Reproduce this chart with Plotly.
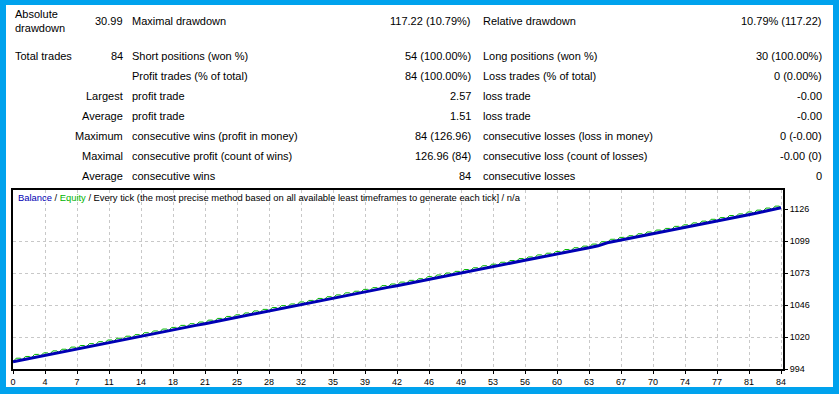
import plotly.graph_objects as go

W, H = 839, 394

# ---------------- data ----------------
initial_deposit = 1000.0
trade_profits = [
    1.52, 1.48, 1.61, 1.35, 1.57, 1.44, 1.66, 1.39, 1.50, 1.58,
    1.42, 1.47, 1.63, 1.36, 1.55, 1.49, 1.52, 1.41, 1.60, 1.45,
    1.38, 1.53, 1.46, 1.57, 1.40, 1.51, 1.62, 1.37, 1.48, 1.54,
    1.43, 1.59, 1.34, 1.56, 1.47, 1.50, 1.65, 1.38, 1.52, 1.46,
    1.58, 1.41, 1.53, 1.49, 1.37, 1.64, 1.44, 1.55, 1.40, 1.51,
    1.47, 1.60, 1.36, 1.54, 1.48, 1.57, 1.39, 1.62, 1.45, 1.43,
    1.56, 1.50, 1.38, 1.59, 2.57, 1.46, 1.52, 1.41, 1.58, 1.49,
    1.55, 1.42, 1.61, 1.37, 1.53, 1.48, 1.50, 1.44, 1.63, 1.40,
    1.57, 1.52, 1.68, 1.61,
]
# floating equity gain of the open position, sampled inside each trade
floating_mid = [
    2.91, 2.82, 3.04, 2.70, 2.97, 2.78, 3.10, 2.75, 2.89, 3.00,
    2.80, 2.86, 3.08, 2.72, 2.94, 2.85, 2.93, 2.77, 3.03, 2.81,
    2.74, 2.92, 2.83, 2.99, 2.76, 2.90, 3.06, 2.73, 2.87, 2.95,
    2.79, 3.02, 2.69, 2.98, 2.84, 2.88, 3.09, 2.75, 2.91, 2.83,
    3.01, 2.78, 2.94, 2.86, 2.72, 3.07, 2.80, 2.96, 2.77, 2.90,
    2.85, 3.04, 2.71, 2.95, 2.87, 2.99, 2.75, 3.05, 2.82, 2.79,
    2.98, 2.89, 2.74, 3.02, 3.35, 2.83, 2.92, 2.77, 3.00, 2.88,
    2.97, 2.78, 3.05, 2.72, 2.93, 2.86, 2.90, 2.80, 3.07, 2.76,
    2.99, 2.91, 3.10, 3.03,
]

x_tick_vals = [0, 3.5, 7, 10.5, 14, 17.5, 21, 24.5, 28, 31.5, 35, 38.5, 42,
               45.5, 49, 52.5, 56, 59.5, 63, 66.5, 70, 73.5, 77, 80.5, 84]
x_tick_text = ["0", "4", "7", "11", "14", "18", "21", "25", "28", "32", "35",
               "39", "42", "46", "49", "53", "56", "60", "63", "67", "70",
               "74", "77", "81", "84"]
y_tick_vals = [994, 1020.4, 1046.8, 1073.2, 1099.6, 1126]
y_tick_text = ["994", "1020", "1046", "1073", "1099", "1126"]
y_grid_vals = [1020.4, 1046.8, 1073.2, 1099.6]

# report table
head_labels = ["Absolute<br>drawdown", "Total trades", "", "Largest", "Average",
               "Maximum", "Maximal", "Average"]
head_values = ["30.99", "84", "", "", "", "", "", ""]
mid_labels = ["Maximal drawdown", "Short positions (won %)", "Profit trades (% of total)",
              "profit trade", "profit trade", "consecutive wins (profit in money)",
              "consecutive profit (count of wins)", "consecutive wins"]
mid_values = ["117.22 (10.79%)", "54 (100.00%)", "84 (100.00%)", "2.57", "1.51",
              "84 (126.96)", "126.96 (84)", "84"]
right_labels = ["Relative drawdown", "Long positions (won %)", "Loss trades (% of total)",
                "loss trade", "loss trade", "consecutive losses (loss in money)",
                "consecutive loss (count of losses)", "consecutive losses"]
right_values = ["10.79% (117.22)", "30 (100.00%)", "0 (0.00%)", "-0.00", "-0.00",
                "0 (-0.00)", "-0.00 (0)", "0"]

chart_title = ("<span style='color:#0000B4'>Balance</span> / "
               "<span style='color:#00B400'>Equity</span> / Every tick (the most precise "
               "method based on all available least timeframes to generate each tick] / n/a")

# ---------------- build series ----------------
balance = [initial_deposit]
for p in trade_profits:
    balance.append(round(balance[-1] + p, 2))
bal_x = list(range(len(balance)))

eq_x, eq_y = [], []
for i, f in enumerate(floating_mid):
    eq_x += [i, i + 0.35, i + 0.8]
    eq_y += [balance[i], balance[i] + f, balance[i] + f]
eq_x.append(len(trade_profits))
eq_y.append(balance[-1])

# ---------------- helpers ----------------
def px(x):
    return x / W


def py(y):
    return 1 - y / H


FONT = "Liberation Sans, Arial, sans-serif"
BLUE_BG = "#00A2ED"

# plot box in pixels
L, R, T, B = 13, 783, 190, 369
y_lo, y_at = 994, 1126
y_hi = y_lo + (B - T) / (B - 209) * (y_at - y_lo)
x_hi = 84 * (R - L) / (781 - L)

fig = go.Figure()
fig.add_trace(go.Scatter(x=eq_x, y=eq_y, mode="lines",
                         line=dict(color="#00B400", width=1),
                         xaxis="x", yaxis="y", hoverinfo="skip", showlegend=False))
fig.add_trace(go.Scatter(x=bal_x, y=balance, mode="lines",
                         line=dict(color="#0000B4", width=3),
                         xaxis="x", yaxis="y2", hoverinfo="skip", showlegend=False))

annotations = []
row_y = [21] + [56 + 20 * k for k in range(7)]
for k in range(len(mid_labels)):
    yk = py(row_y[k])
    if head_labels[k]:
        left_aligned = k < 2
        annotations.append(dict(
            x=px(13 if left_aligned else 125), y=yk, text=head_labels[k],
            xanchor="left" if left_aligned else "right", yanchor="middle",
            align="left", showarrow=False))
    if head_values[k]:
        annotations.append(dict(x=px(125), y=yk, text=head_values[k],
                                xanchor="right", yanchor="middle", showarrow=False))
    annotations.append(dict(x=px(130), y=yk, text=mid_labels[k],
                            xanchor="left", yanchor="middle", showarrow=False))
    annotations.append(dict(x=px(473), y=yk, text=mid_values[k],
                            xanchor="right", yanchor="middle", showarrow=False))
    annotations.append(dict(x=px(481), y=yk, text=right_labels[k],
                            xanchor="left", yanchor="middle", showarrow=False))
    annotations.append(dict(x=px(824), y=yk, text=right_values[k],
                            xanchor="right", yanchor="middle", showarrow=False))
for a in annotations:
    a.update(xref="paper", yref="paper", font=dict(family=FONT, size=11, color="#000000"))

annotations.append(dict(x=px(16), y=py(198), xref="paper", yref="paper",
                        text=chart_title, xanchor="left", yanchor="middle",
                        showarrow=False,
                        font=dict(family=FONT, size=9.4, color="#000000")))

grid = dict(showgrid=True, gridcolor="#C8C8C8", gridwidth=1, griddash="3px,3px")

fig.update_layout(
    width=W, height=H,
    autosize=False,
    margin=dict(l=0, r=0, t=0, b=0, pad=0, autoexpand=False),
    paper_bgcolor=BLUE_BG,
    plot_bgcolor="#FFFFFF",
    showlegend=False,
    annotations=annotations,
    shapes=[dict(type="rect", xref="paper", yref="paper",
                 x0=px(6), x1=px(833), y0=py(387), y1=py(5),
                 fillcolor="#FFFFFF", line=dict(width=0), layer="below")],
    xaxis=dict(domain=[px(L), px(R)], range=[0, x_hi], automargin=False,
               tickmode="array", tickvals=x_tick_vals, ticktext=x_tick_text,
               ticks="outside", ticklen=3, tickcolor="#000000",
               tickfont=dict(family=FONT, size=9, color="#000000"),
               showline=True, linecolor="#000000", linewidth=1.5, mirror=True,
               zeroline=False, fixedrange=True, **grid),
    yaxis=dict(domain=[py(B), py(T)], range=[y_lo, y_hi], automargin=False,
               tickmode="array", tickvals=y_grid_vals, showticklabels=False,
               ticks="", side="right",
               showline=True, linecolor="#000000", linewidth=1.5, mirror=True,
               zeroline=False, fixedrange=True, **grid),
    yaxis2=dict(overlaying="y", range=[y_lo, y_hi], side="right", automargin=False,
                tickmode="array", tickvals=y_tick_vals, ticktext=y_tick_text,
                ticks="outside", ticklen=4, tickcolor="#000000",
                tickfont=dict(family=FONT, size=9, color="#000000"),
                showgrid=False, showline=False, zeroline=False, fixedrange=True),
)

page_fix = ("document.body.style.margin='0';document.body.style.padding='0';"
            "document.body.style.overflow='hidden';"
            "document.body.style.background='" + BLUE_BG + "';")

fig.write_html("out.html", config={"responsive": False, "displayModeBar": False},
               post_script=page_fix)
